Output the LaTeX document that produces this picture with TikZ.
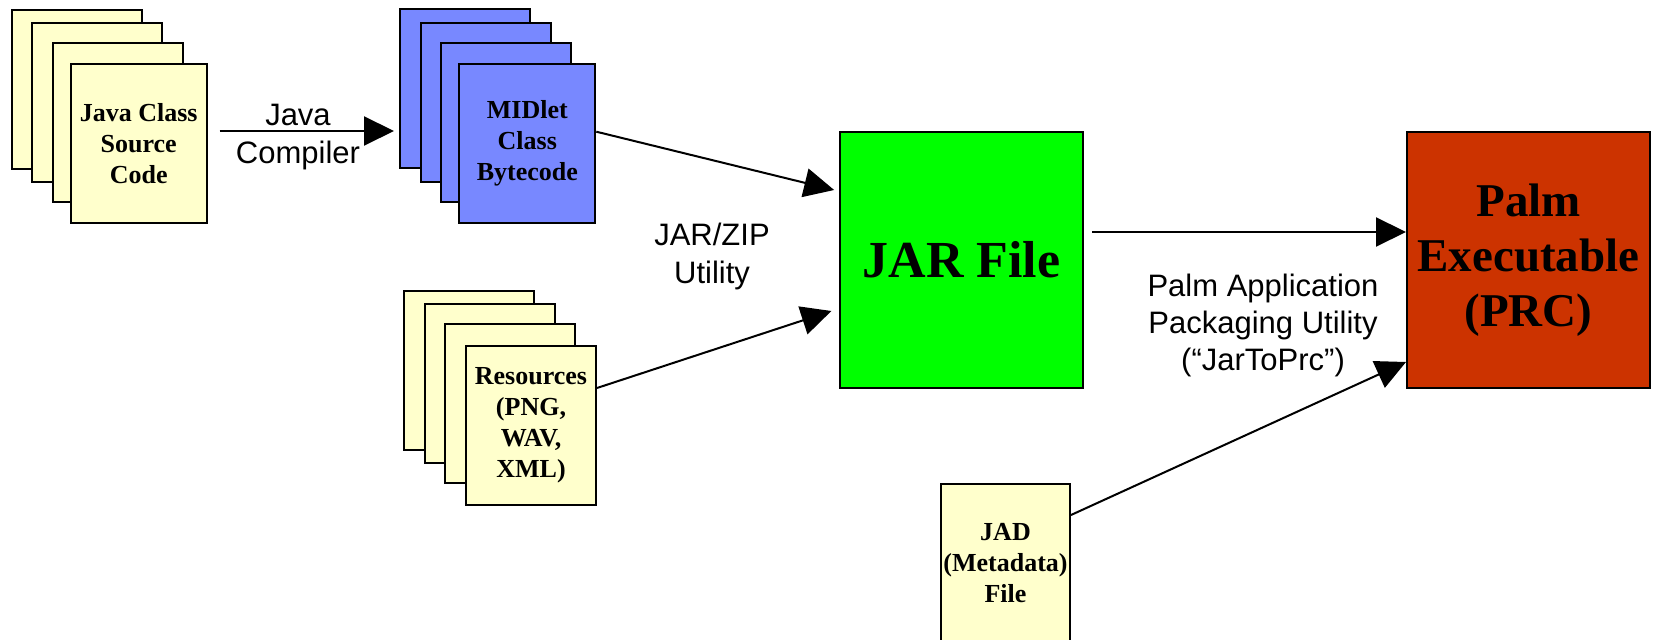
\documentclass[tikz,border=0pt]{standalone}
\usepackage{fontspec}
\setmainfont{Liberation Serif}
\setsansfont{Liberation Sans}
\usepackage{tikz}
\usetikzlibrary{arrows.meta,calc}

\definecolor{paper}{HTML}{FFFFCC}
\definecolor{midletblue}{RGB}{120,136,255}
\definecolor{jargreen}{HTML}{00FF00}
\definecolor{prcred}{HTML}{CC3300}

\tikzset{
  sheet/.style={draw=black,line width=1pt,minimum width=65pt,minimum height=79.5pt,inner sep=0pt,align=center,font=\bfseries\fontsize{13}{15.5}\selectfont},
  bigbox/.style={draw=black,line width=1pt,minimum width=121.5pt,minimum height=128pt,inner sep=0pt,align=center},
  flow/.style={-{Triangle[length=15pt,width=14.5pt]},line width=1pt},
  lbl/.style={align=center,font=\sffamily\fontsize{15.5}{19}\selectfont}
}

\begin{document}
\begin{tikzpicture}[x=0.5pt,y=-0.5pt]
\useasboundingbox (0,0) rectangle (1653,640);
% Piles de feuilles
\foreach \i/\dx/\dy in {1/0/0,2/20.5/13.5,3/41/33.5}
  \node[sheet,fill=paper] (java\i) at (76.7+\dx,89.5+\dy) {};
\node[sheet,fill=paper,minimum width=68pt] (java4) at (138.7,143.5) {Java Class\\Source\\Code};
\foreach \i/\dx/\dy in {1/0/0,2/20.5/13.5,3/41/33.5}
  \node[sheet,fill=midletblue] (midlet\i) at (465+\dx,89+\dy) {};
\node[sheet,fill=midletblue,minimum width=68pt] (midlet4) at (527.3,143.5) {MIDlet\\Class\\Bytecode};
\foreach \i/\dx/\dy in {1/0/0,2/20.5/13.5,3/41/33.5}
  \node[sheet,fill=paper] (res\i) at (469+\dx,370.2+\dy) {};
\node[sheet,fill=paper] (res4) at (531,425.5) {Resources\\(PNG,\\WAV,\\XML)};
\node[sheet,fill=paper,minimum width=64.5pt] (jad) at (1005.5,563.5) {JAD\\(Metadata)\\File};
% Boites
\node[bigbox,fill=jargreen,font=\bfseries\fontsize{26}{30}\selectfont] (jar) at (961.5,260) {JAR File};
\node[bigbox,fill=prcred,font=\bfseries\fontsize{23.5}{27.5}\selectfont] (palm) at (1528.5,260) {Palm\\Executable\\(PRC)};
% Fleches
\coordinate (javaout) at ([yshift=6.25pt]java4.east);
\coordinate (jarout) at ([yshift=14pt]jar.east);
\draw[flow,shorten <=6pt,shorten >=2.5pt] (javaout) -- (javaout -| midlet1.west);
\draw[flow,shorten >=2.5pt] ([yshift=5.9pt]midlet4.east) -- ([yshift=34.4pt]jar.west);
\draw[flow,shorten >=4pt] ([yshift=18.75pt]res4.east) -- ([yshift=-24.25pt]jar.west);
\draw[flow,shorten <=4pt] (jarout) -- (jarout -| palm.west);
\draw[flow] ([yshift=24.25pt]jad.east) -- ([yshift=-51pt]palm.west);
% Etiquettes
\node[lbl] (compiler) at (298,137) {Java\\Compiler};
\node[lbl] (jarzip) at (712,256.5) {JAR/ZIP\\Utility};
\node[lbl,font=\sffamily\fontsize{15.5}{18.5}\selectfont] (packager) at (1263,325) {Palm Application\\Packaging Utility\\(“JarToPrc”)};
\end{tikzpicture}
\end{document}
